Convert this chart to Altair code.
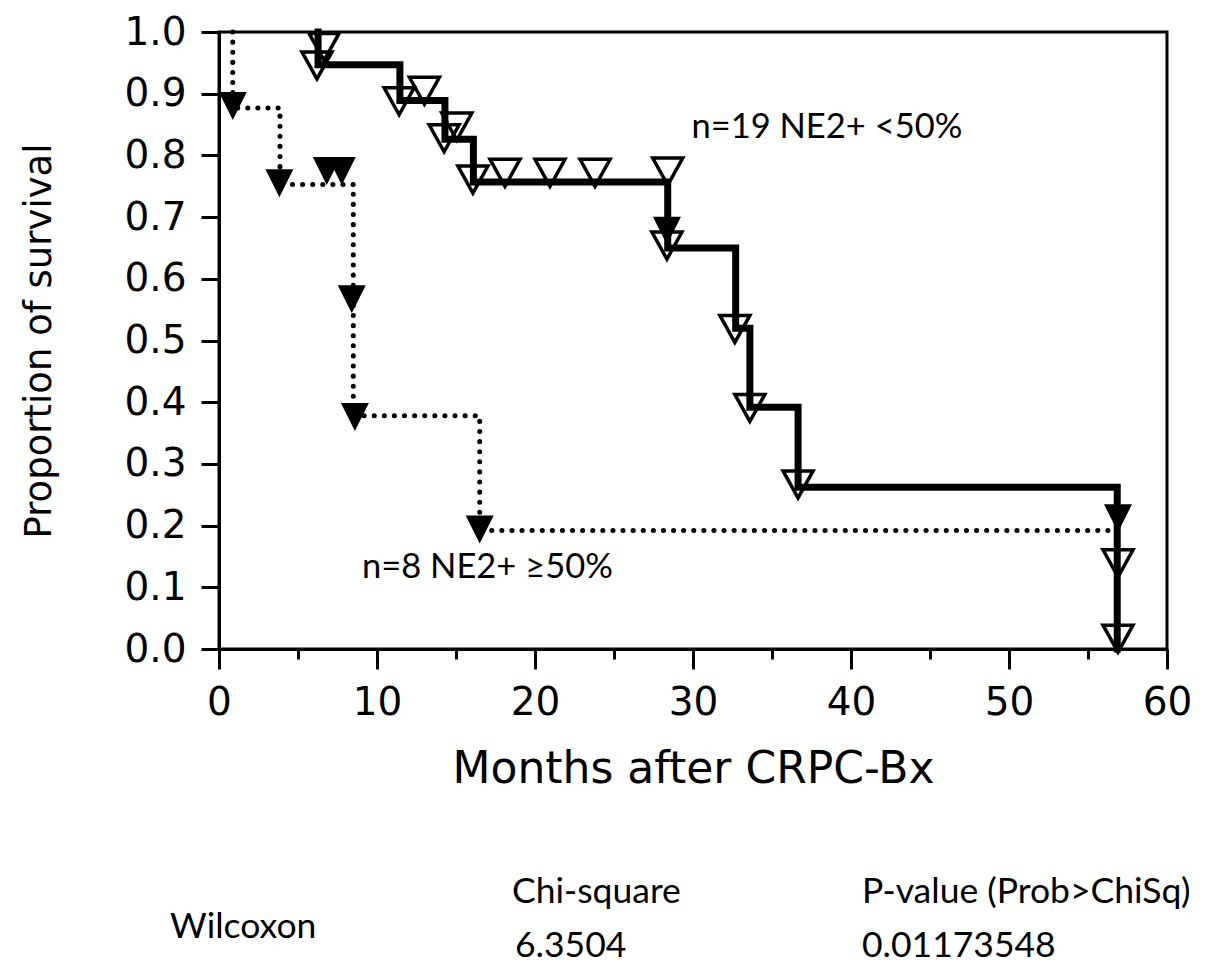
import altair as alt
import pandas as pd

# ---- data ----
# NE2+ <50% (n=19), solid step curve
solid_time = [6.27, 6.27, 11.45, 14.3, 16.1, 28.4, 32.7, 33.6, 36.65, 56.85]
solid_surv = [1.0, 0.947, 0.889, 0.826, 0.757, 0.65, 0.52, 0.392, 0.262, 0.0]

# NE2+ >=50% (n=8), dotted step curve
dotted_time = [0.87, 0.87, 3.86, 8.5, 8.5, 16.5, 56.85]
dotted_surv = [1.0, 0.877, 0.753, 0.565, 0.378, 0.192, 0.192]

# open triangle markers
open_time = [6.2, 6.65, 11.4, 13.0, 14.25, 15.05, 16.07, 18.1, 20.95, 23.8, 28.4, 28.35,
             32.65, 33.6, 36.65, 56.9, 56.9]
open_surv = [0.947, 0.977, 0.889, 0.906, 0.829, 0.848, 0.762, 0.773, 0.773, 0.773, 0.775, 0.655,
             0.52, 0.392, 0.268, 0.14, 0.018]

# filled triangle markers
filled_time = [0.87, 3.82, 6.82, 7.77, 8.4, 8.6, 16.5, 56.9, 28.35]
filled_surv = [0.881, 0.756, 0.776, 0.776, 0.568, 0.377, 0.195, 0.213, 0.679]

x_ticks = [0, 5, 10, 15, 20, 25, 30, 35, 40, 45, 50, 55, 60]
y_ticks = [0.0, 0.1, 0.2, 0.3, 0.4, 0.5, 0.6, 0.7, 0.8, 0.9, 1.0]

label_hi = "n=19 NE2+ <50%"
label_lo = "n=8 NE2+ \u226550%"
label_hi_pos = (29.9, 0.829)
label_lo_pos = (9.05, 0.1145)

stat_test = "Wilcoxon"
stat_chi_head = "Chi-square"
stat_chi = "6.3504"
stat_p_head = "P-value (Prob>ChiSq)"
stat_p = "0.01173548"

# ---- build ----
W, H = 948, 617
PAD_TOP = 24
TRI_OPEN = "M-1,-0.85L1,-0.85L0,0.95Z"
TRI_FILL = "M-1,-0.95L1,-0.95L0,1.05Z"
AXFONT = "DejaVu Sans"
TXFONT = "Lato"

x_axis = alt.Axis(
    values=x_ticks,
    labelExpr="datum.value % 10 === 0 ? datum.label : ''",
    tickSize={"condition": {"test": "datum.value % 10 === 0", "value": 20}, "value": 10},
    tickWidth=3, tickColor="black", domainWidth=3, domainColor="black",
    labelFont=AXFONT, labelFontSize=39, labelColor="black", labelPadding=14,
    labelFlush=False, labelOverlap=False,
    grid=False,
    title="Months after CRPC-Bx", titleFont=AXFONT, titleFontSize=44,
    titleFontWeight="normal", titleColor="black",
    titleX=W / 2, titleY=133, titleBaseline="alphabetic", titleAnchor="middle", titleAlign="center",
)
y_axis = alt.Axis(
    values=y_ticks, format=".1f",
    tickSize=18, tickWidth=3, tickColor="black", domainWidth=3, domainColor="black",
    labelFont=AXFONT, labelFontSize=39, labelColor="black", labelPadding=15,
    labelFlush=False, labelOverlap=False,
    grid=False,
    title="Proportion of survival", titleFont=AXFONT, titleFontSize=37,
    titleFontWeight="normal", titleColor="black",
    titleX=-169, titleY=H / 2, titleBaseline="alphabetic", titleAngle=-90, titleAlign="center",
)

xs = alt.Scale(domain=[0, 60], nice=False, zero=False)
ys = alt.Scale(domain=[0, 1], nice=False, zero=False)

solid_df = pd.DataFrame({"t": solid_time, "s": solid_surv, "i": range(len(solid_time))})
dotted_df = pd.DataFrame({"t": dotted_time, "s": dotted_surv, "i": range(len(dotted_time))})
open_df = pd.DataFrame({"t": open_time, "s": open_surv})
filled_df = pd.DataFrame({"t": filled_time, "s": filled_surv})


def enc(chart):
    return chart.encode(
        x=alt.X("t:Q", scale=xs, axis=x_axis),
        y=alt.Y("s:Q", scale=ys, axis=y_axis),
    )


dotted = enc(alt.Chart(dotted_df).mark_line(
    interpolate="step-after", color="black", strokeWidth=5,
    strokeDash=[0.1, 10], strokeCap="round")).encode(order="i:Q")
solid = enc(alt.Chart(solid_df).mark_line(
    interpolate="step-after", color="black", strokeWidth=7,
    strokeCap="square", strokeJoin="miter")).encode(order="i:Q")
open_pts = enc(alt.Chart(open_df).mark_point(
    shape=TRI_OPEN, size=900, filled=False, stroke="black", strokeWidth=3.5, opacity=1))
filled_pts = enc(alt.Chart(filled_df).mark_point(
    shape=TRI_FILL, size=784, filled=True, fill="black", strokeWidth=0, opacity=1))

lab_df = pd.DataFrame({"t": [label_hi_pos[0], label_lo_pos[0]],
                       "s": [label_hi_pos[1], label_lo_pos[1]],
                       "txt": [label_hi, label_lo]})
labels = enc(alt.Chart(lab_df).mark_text(
    font=TXFONT, fontSize=34.5, align="left", baseline="alphabetic", color="black")).encode(text="txt:N")


def stat_text(txt, px, py):
    return alt.Chart(pd.DataFrame({"txt": [txt]})).mark_text(
        font=TXFONT, fontSize=35.5, align="left", baseline="alphabetic", color="black"
    ).encode(text="txt:N", x=alt.value(px), y=alt.value(py - (PAD_TOP - 21)))


stats = [
    stat_text(stat_test, -49, 909),
    stat_text(stat_chi_head, 293, 874),
    stat_text(stat_chi, 296, 928),
    stat_text(stat_p_head, 643, 874),
    stat_text(stat_p, 643, 928),
]

chart = alt.layer(dotted, solid, open_pts, filled_pts, labels, *stats).properties(
    width=W, height=H,
    autosize=alt.AutoSizeParams(type="none"),
    padding={"left": 211, "top": PAD_TOP, "right": 30, "bottom": 318},
    background="white",
).configure_view(stroke="black", strokeWidth=3)

chart.save("out.html", embed_options={"renderer": "svg", "actions": False})
